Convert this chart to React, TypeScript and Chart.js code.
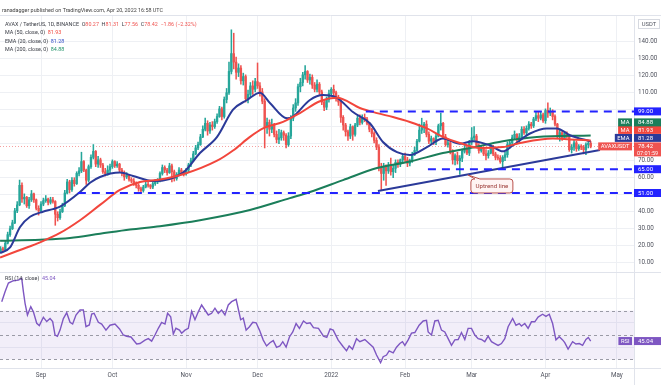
import React, { useEffect, useRef } from 'react';
import { Chart, registerables } from 'chart.js';

Chart.register(...registerables);

// ---------- DATA (daily candles, AVAX/USDT, 15 Aug 2021 – 20 Apr 2022) ----------
// day index 0 = 1 Sep 2021
const firstDay = -17;
const firstOpen = 16.8;

const augClose = [18.2, 17.6, 21.5, 26.5, 30.0, 33.5, 40.5, 44.0, 55.5, 47.5, 48.5, 43.5, 47.0, 50.5, 47.0, 42.0, 40.5];
const augHigh = [19.5, 19.2, 22.5, 28.0, 31.5, 35.0, 42.0, 46.0, 58.6, 57.0, 50.5, 49.0, 48.5, 52.5, 51.0, 47.5, 43.5];
const augLow = [16.5, 16.8, 17.3, 21.0, 25.5, 29.5, 33.0, 39.5, 43.5, 45.5, 44.5, 42.5, 42.0, 46.0, 45.5, 41.0, 38.0];

const sepClose = [44.5, 46.5, 47.5, 45.5, 47.0, 46.0, 38.5, 36.5, 40.0, 43.5, 51.0, 57.5, 53.0, 58.5, 56.5, 62.5, 64.0, 69.5, 64.5, 58.5, 66.5, 72.0, 75.5, 68.0, 70.5, 67.5, 63.5, 62.5, 64.5, 66.5];
const sepHigh = [46.0, 48.0, 49.5, 48.0, 48.5, 48.5, 46.5, 40.0, 41.5, 45.0, 52.5, 59.0, 58.5, 60.0, 60.0, 63.5, 66.0, 75.0, 70.0, 65.0, 67.5, 73.5, 79.5, 76.0, 72.5, 71.5, 68.5, 65.5, 67.0, 68.0];
const sepLow = [39.5, 43.5, 45.5, 44.0, 44.5, 45.0, 32.0, 34.5, 35.5, 39.5, 43.0, 50.5, 51.0, 52.0, 55.0, 56.0, 61.0, 63.0, 63.5, 56.0, 57.5, 65.5, 71.0, 66.5, 66.0, 66.0, 62.5, 61.0, 61.5, 63.0];

const octClose = [69.5, 67.0, 68.0, 64.5, 63.0, 60.5, 61.5, 59.0, 58.0, 56.5, 55.5, 53.5, 52.5, 54.5, 56.0, 55.5, 54.5, 56.5, 57.5, 58.5, 62.5, 66.0, 64.5, 63.0, 67.0, 63.5, 59.5, 62.0, 64.5, 63.0, 62.5];
const octHigh = [70.5, 70.0, 69.5, 68.5, 65.5, 64.0, 63.0, 62.0, 60.0, 59.5, 57.5, 56.5, 54.5, 55.5, 58.0, 57.5, 56.0, 57.5, 59.0, 59.5, 63.5, 67.5, 67.0, 65.5, 68.5, 68.0, 64.5, 63.0, 66.0, 65.5, 64.0];
const octLow = [65.5, 66.0, 66.0, 63.0, 61.0, 58.5, 59.5, 58.0, 57.0, 55.5, 54.0, 52.0, 51.0, 51.5, 54.0, 54.5, 53.5, 53.5, 55.5, 56.5, 57.5, 61.5, 63.0, 61.5, 62.5, 57.5, 58.0, 58.5, 61.0, 62.0, 61.0];

const novClose = [64.5, 67.5, 70.0, 74.0, 77.5, 79.5, 84.0, 88.5, 92.0, 87.5, 91.0, 90.0, 93.0, 96.0, 100.5, 96.0, 106.0, 110.0, 122.5, 133.0, 128.0, 122.0, 124.5, 117.0, 119.5, 106.5, 109.0, 114.0, 112.0, 116.5];
const novHigh = [65.5, 68.5, 71.5, 75.5, 79.0, 81.0, 85.5, 90.5, 95.0, 93.5, 92.5, 93.0, 94.5, 97.5, 102.0, 101.5, 107.5, 112.5, 128.0, 147.0, 145.0, 131.0, 127.0, 126.0, 121.5, 120.5, 111.5, 116.0, 117.0, 118.5];
const novLow = [61.5, 63.5, 66.5, 69.5, 73.5, 76.5, 79.0, 83.5, 87.5, 85.0, 86.0, 88.0, 89.0, 92.0, 95.5, 94.0, 95.0, 104.0, 109.0, 121.0, 124.0, 118.0, 119.5, 115.0, 114.5, 104.5, 104.0, 107.5, 109.0, 110.5];

const decClose = [114.0, 110.5, 105.0, 90.0, 92.5, 88.5, 91.0, 85.5, 82.5, 83.5, 86.5, 85.0, 79.5, 84.5, 95.0, 101.0, 104.0, 113.5, 116.0, 120.5, 122.5, 117.5, 119.0, 114.5, 112.0, 115.0, 110.5, 104.5, 101.5, 106.0, 109.5];
const decHigh = [127.5, 116.0, 112.5, 106.5, 95.0, 94.0, 94.5, 92.0, 87.5, 88.5, 88.0, 87.5, 86.0, 86.5, 96.5, 103.0, 106.5, 115.0, 118.5, 122.0, 126.0, 123.0, 121.0, 120.5, 116.0, 117.5, 116.0, 111.5, 105.5, 107.5, 111.5];
const decLow = [112.5, 108.0, 103.5, 77.5, 86.0, 84.5, 86.5, 84.0, 80.5, 80.0, 82.0, 82.0, 77.5, 78.5, 83.0, 93.5, 99.0, 102.5, 110.5, 114.0, 118.0, 116.0, 115.0, 112.5, 110.5, 110.5, 109.0, 103.0, 99.5, 100.0, 104.5];

const janClose = [112.0, 110.0, 106.5, 104.5, 95.5, 91.0, 87.0, 84.5, 90.0, 85.5, 91.0, 95.0, 92.5, 95.5, 94.5, 92.0, 88.5, 86.0, 82.0, 78.0, 66.0, 62.5, 66.5, 64.0, 67.5, 63.5, 65.5, 69.0, 68.0, 70.5, 72.5];
const janHigh = [113.0, 114.5, 111.0, 108.5, 106.5, 96.5, 92.0, 88.0, 91.5, 90.5, 92.0, 96.5, 97.0, 97.0, 97.5, 95.5, 92.5, 89.0, 87.0, 83.5, 79.5, 68.5, 68.5, 67.5, 69.0, 71.5, 67.5, 70.5, 70.5, 71.0, 73.5];
const janLow = [108.0, 108.0, 105.0, 102.5, 92.5, 88.0, 84.5, 82.0, 83.0, 82.0, 84.5, 90.0, 91.0, 91.5, 93.0, 91.0, 87.0, 84.0, 80.5, 76.5, 64.0, 53.0, 58.5, 55.5, 62.5, 61.5, 60.0, 63.0, 66.0, 66.5, 69.0];

const febClose = [70.5, 68.5, 70.0, 73.5, 76.0, 81.5, 88.0, 89.5, 91.5, 85.5, 81.5, 83.0, 81.0, 84.5, 90.5, 92.0, 84.0, 79.5, 80.5, 75.0, 70.5, 73.0, 70.0, 71.5, 75.5, 77.0, 74.5, 81.0];
const febHigh = [74.5, 72.0, 71.0, 75.0, 78.0, 82.5, 91.5, 95.0, 92.5, 93.5, 87.0, 84.5, 83.5, 86.0, 91.5, 98.0, 92.5, 85.5, 82.0, 81.5, 76.5, 74.0, 75.0, 73.0, 77.0, 79.0, 78.5, 82.0];
const febLow = [69.0, 66.5, 67.0, 69.0, 73.0, 75.5, 81.0, 86.0, 86.5, 84.0, 80.0, 80.0, 79.5, 79.5, 84.0, 88.0, 83.0, 78.5, 78.0, 74.0, 68.0, 67.5, 68.0, 62.0, 69.5, 74.5, 73.5, 73.0];

const marClose = [83.5, 84.5, 79.0, 76.0, 77.5, 74.0, 73.0, 74.5, 78.5, 74.0, 72.0, 71.5, 69.5, 72.0, 73.5, 79.5, 80.5, 83.5, 85.5, 82.5, 84.0, 88.5, 86.5, 89.0, 91.5, 90.5, 94.5, 96.5, 95.0, 97.0, 93.5];
const marHigh = [89.5, 90.0, 85.5, 80.0, 79.0, 78.0, 76.5, 76.0, 80.0, 79.0, 75.0, 73.5, 73.0, 73.0, 75.0, 81.0, 82.0, 85.0, 87.5, 86.0, 86.0, 90.0, 90.0, 90.5, 93.0, 92.5, 95.5, 99.0, 98.5, 99.0, 98.0];
const marLow = [79.5, 82.0, 78.0, 74.5, 75.0, 73.0, 70.5, 71.5, 74.0, 73.0, 70.5, 70.5, 68.5, 66.0, 70.0, 72.0, 77.5, 79.0, 82.5, 81.0, 81.0, 83.0, 85.5, 85.0, 88.0, 89.0, 89.5, 93.5, 93.0, 94.0, 92.5];

const aprClose = [99.5, 98.0, 99.0, 96.0, 91.5, 84.0, 86.5, 83.5, 86.0, 84.5, 76.5, 78.0, 80.5, 77.0, 78.5, 78.0, 76.5, 79.5, 80.27, 78.42];
const aprHigh = [100.5, 104.0, 101.0, 100.0, 97.0, 92.0, 88.5, 87.5, 87.0, 87.0, 84.5, 79.5, 82.0, 81.5, 79.5, 79.5, 79.0, 80.5, 82.0, 81.31];
const aprLow = [92.0, 95.5, 96.5, 94.0, 90.5, 83.0, 81.5, 82.0, 82.5, 83.5, 75.5, 74.5, 76.0, 75.5, 76.0, 76.5, 74.0, 73.5, 77.5, 77.56];

// Moving averages (day index, value)
const ema20Days = [-17.2, -13, -8.8, -4.6, 0.8, 5, 8, 16.4, 20.6, 24.8, 33.2, 38.7, 47.1, 59.7, 66.8, 74, 80.7, 86.6, 92, 96.2, 103.4, 105.9, 113, 118.5, 124.4, 131.1, 138.2, 143.7, 149.6, 155, 162.2, 168.9, 176, 181.5, 188.7, 194.1, 198.3, 205.5, 212.6, 216.8, 222.3, 231];
const ema20Vals = [15.7, 19, 31, 37, 40, 41.5, 43, 51.6, 57, 60.4, 63, 61, 58, 63, 74.5, 84, 100, 105.7, 110, 104, 95, 96, 105.7, 108.6, 107, 98.6, 92, 81, 75, 73.4, 78, 83, 80, 81.5, 79, 75.5, 79, 86, 89, 89, 85, 81.28];

const ma50Days = [-17.2, -8.8, -0.4, 8, 16.4, 24.8, 33.2, 41.6, 48.7, 59.7, 74, 80.7, 87.8, 93.3, 101.7, 108.8, 117.2, 124.4, 134, 141.2, 147.9, 155, 162.2, 168.9, 176, 184.5, 194.1, 201.3, 215.1, 222.3, 231];
const ma50Vals = [13, 17.5, 22, 27.5, 35, 44, 52.8, 57.5, 58.6, 62, 70, 76, 84, 89, 92.8, 98, 105, 107, 101, 98, 95.7, 92.8, 89, 84, 80.4, 77.5, 78, 80.4, 83, 82.5, 81.93];

const ma200Days = [-17.2, -0.4, 12.2, 24.8, 37.4, 50, 66.8, 87.8, 104.6, 113, 126.9, 141.2, 155, 168.9, 180.3, 194.1, 208.4, 231];
const ma200Vals = [22.9, 23.5, 24.5, 27, 29.5, 31.5, 35, 41, 48, 51.6, 58.6, 65.7, 69.5, 74.5, 77.5, 81.5, 84, 84.88];

// Horizontal levels and uptrend line
const levelPrices = [99, 65, 51];
const levelStartDays = [136.5, 162.6, 15.5];
const trendDays = [141.6, 234.9];
const trendPrices = [52.2, 76.3];

// RSI(14)
const rsiDays = [-16.5, -15.1, -13.7, -11.6, -9.5, -8.1, -7.4, -6.7, -5.7, -4.3, -3.2, -1.8, -0.7, 1.0, 2.4, 3.8, 4.9, 5.9, 6.9, 8.0, 9.4, 10.8, 12.2, 13.3, 14.7, 16.4, 17.8, 18.9, 20.3, 21.3, 22.3, 24.1, 25.5, 27.3, 29.0, 31.1, 33.0, 34.6, 36.0, 37.8, 40.2, 41.6, 43.7, 45.1, 46.5, 47.9, 49.3, 50.7, 52.1, 53.2, 54.5, 55.6, 56.7, 58.2, 59.1, 60.5, 61.9, 63.3, 64.7, 66.1, 67.5, 68.9, 70.3, 71.7, 73.1, 74.5, 75.9, 77.3, 78.7, 80.1, 82.0, 83.0, 83.9, 85.0, 86.2, 87.6, 89.0, 90.4, 91.8, 93.4, 94.8, 96.2, 97.6, 99.0, 100.4, 101.6, 103.0, 104.4, 105.8, 107.2, 108.6, 110.3, 111.7, 113.1, 114.5, 116.6, 118.7, 120.1, 121.5, 122.8, 124.9, 127.0, 128.4, 129.5, 130.9, 132.6, 134.0, 136.1, 137.9, 139.6, 141.0, 142.7, 143.8, 145.2, 146.3, 148.0, 149.4, 150.8, 151.9, 152.9, 154.3, 155.7, 157.1, 158.9, 160.6, 162.0, 162.7, 164.1, 165.5, 166.9, 168.3, 169.7, 171.1, 172.5, 173.9, 175.3, 176.7, 178.1, 179.5, 180.9, 182.3, 183.7, 185.1, 186.5, 187.9, 189.3, 190.7, 192.1, 193.5, 194.9, 196.3, 198.2, 199.6, 201.0, 201.9, 203.3, 204.7, 206.1, 207.5, 208.9, 210.8, 212.2, 213.6, 215.0, 216.4, 217.8, 219.2, 220.1, 221.5, 223.4, 224.8, 226.2, 227.6, 229.0, 230.0, 231];
const rsiVals = [77.3, 85.5, 92.6, 94.5, 95, 96.4, 85.5, 76, 66.4, 73.2, 69, 59.6, 57.7, 64.5, 61, 63.5, 61, 50, 49, 54, 63.5, 68.3, 60.4, 59, 66.4, 70.5, 70.5, 56.8, 58.2, 67.2, 67.8, 60.4, 59, 54, 58, 59, 55, 50, 49, 48.4, 42.6, 43, 45.8, 47, 45, 50, 55.5, 60.4, 59, 67.8, 65, 50.8, 55.5, 54, 51.5, 54, 55.5, 69.5, 62.5, 69, 74.6, 70.5, 66.4, 67.8, 72, 67.8, 70.5, 66.4, 74.6, 77.3, 79.2, 70.5, 62.5, 63.8, 54, 56.8, 60.4, 60, 54, 45.8, 41, 43.7, 45.4, 39.9, 41, 44.5, 40, 48.4, 52.5, 59.4, 55.4, 61.5, 59.4, 60, 56, 55.4, 49, 48, 55, 54, 45.8, 40.4, 37, 41, 38.4, 47, 44.5, 46.3, 43, 40, 33.6, 27.3, 32.2, 33.6, 37, 35.4, 40, 43, 44.5, 41.5, 46, 51.5, 52, 58, 61.5, 62, 52.5, 50, 61.5, 62, 54, 52.5, 47, 41.5, 46, 46.3, 52, 46.3, 55.4, 55.4, 50, 47, 46.3, 44.5, 49, 44.5, 43, 41.5, 43, 47, 56.8, 63.6, 58, 59.4, 57.4, 59.4, 55.4, 60.8, 60.8, 64.7, 67, 65.3, 67, 59.4, 46, 48.6, 46, 43.7, 38.4, 44.5, 42.6, 43, 41.5, 46.3, 48, 45.04];
const rsiBand = [70, 50, 30];

// Axis ticks
const monthDays = [0, 30, 61, 91, 122, 153, 181, 212, 242];
const monthLabels = ['Sep', 'Oct', 'Nov', 'Dec', '2022', 'Feb', 'Mar', 'Apr', 'May'];
const priceTicks = [10, 20, 30, 40, 50, 60, 70, 80, 90, 100, 110, 120, 130, 140];
const hiddenPriceTicks = [50, 80, 90, 100];
const rsiTicks = [40, 60, 80, 100];

// Legend values
const lastOHLC = { o: '80.27', h: '81.31', l: '77.56', c: '78.42' };
const lastChange = '\u22121.86 (\u22122.32%)';
const ma50Last = 81.93;
const ema20Last = 81.28;
const ma200Last = 84.88;
const rsiLast = 45.04;
const countdown = '07:01:59';
const calloutDay = 179.4;
const calloutPrice = 61.6;

// ---------- LAYOUT ----------
const W = 661;
const H = 385;
const PANE_TOP = 16;
const PANE_SPLIT = 272;
const PANE_BOTTOM = 368;
const AXIS_W = 27;
const PRICE_MAX = 155.12;
const PRICE_AT_SPLIT = 4.53;
const Y_MIN = PRICE_AT_SPLIT - ((PRICE_MAX - PRICE_AT_SPLIT) * (PANE_BOTTOM - PANE_SPLIT)) / (PANE_SPLIT - PANE_TOP);
const RSI_AT_SPLIT = 101.64;
const RSI_MIN = 22.95;
const RSI_MAX = RSI_AT_SPLIT + ((RSI_AT_SPLIT - RSI_MIN) * (PANE_SPLIT - PANE_TOP)) / (PANE_BOTTOM - PANE_SPLIT);
const X_MIN = -17.23;
const X_MAX = 249.2;

const FONT = 'Roboto, "Liberation Sans", Arial, sans-serif';
const GRID = '#eef0f4';
const UP = '#26a69a';
const DOWN = '#ef5350';
const EMA_C = '#2b3a99';
const MA50_C = '#f2463c';
const MA200_C = '#1b7e5a';
const LEVEL_C = '#2323ff';
const RSI_C = '#7e57c2';
const TEXT = '#3a3d45';
const AXIS_TEXT = '#50535e';
const LEGEND_SIZE = 5.4;

const closes = [...augClose, ...sepClose, ...octClose, ...novClose, ...decClose, ...janClose, ...febClose, ...marClose, ...aprClose];
const highs = [...augHigh, ...sepHigh, ...octHigh, ...novHigh, ...decHigh, ...janHigh, ...febHigh, ...marHigh, ...aprHigh];
const lows = [...augLow, ...sepLow, ...octLow, ...novLow, ...decLow, ...janLow, ...febLow, ...marLow, ...aprLow];

function buildCandles() {
  const bodies: any[] = [];
  const wicks: any[] = [];
  const colors: string[] = [];
  for (let i = 0; i < closes.length; i++) {
    const o = i === 0 ? firstOpen : closes[i - 1];
    const c = closes[i];
    const hi = Math.max(highs[i], o, c);
    const lo = Math.min(lows[i], o, c);
    const day = firstDay + i;
    bodies.push({ x: day, y: [o, c] });
    wicks.push({ x: day, y: [lo, hi] });
    colors.push(c >= o ? UP : DOWN);
  }
  return { bodies, wicks, colors };
}

function pts(days: number[], vals: number[]) {
  const n = Math.min(days.length, vals.length);
  const out: any[] = [];
  for (let i = 0; i < n; i++) out.push({ x: days[i], y: vals[i] });
  return out;
}

function f(sz: number, w = 'normal') {
  return `${w} ${sz}px ${FONT}`;
}

function runs(ctx: CanvasRenderingContext2D, x: number, y: number, parts: [string, string][]) {
  let cx = x;
  for (const [t, c] of parts) {
    ctx.fillStyle = c;
    ctx.fillText(t, cx, y);
    cx += ctx.measureText(t).width;
  }
}

function valueBadge(ctx: CanvasRenderingContext2D, left: number, yc: number, bg: string, text: string, h = 8) {
  ctx.fillStyle = bg;
  ctx.fillRect(left, yc - h / 2, W - left, h);
  ctx.fillStyle = '#ffffff';
  ctx.font = f(6);
  ctx.textAlign = 'left';
  ctx.textBaseline = 'middle';
  ctx.fillText(text, left + 4, yc + 0.3);
}

function labelBadge(ctx: CanvasRenderingContext2D, right: number, yc: number, bg: string, text: string, h = 8) {
  ctx.font = f(5.8);
  const w = ctx.measureText(text).width + 5;
  ctx.fillStyle = bg;
  ctx.fillRect(right - w, yc - h / 2, w, h);
  ctx.fillStyle = '#ffffff';
  ctx.textAlign = 'center';
  ctx.textBaseline = 'middle';
  ctx.fillText(text, right - w / 2, yc + 0.3);
}

const overlay = {
  id: 'overlay',
  beforeDatasetsDraw(chart: any) {
    const { ctx, chartArea: ca, scales } = chart;
    const yr = scales.yRsi;
    const yp = scales.y;
    ctx.save();
    const y70 = yr.getPixelForValue(rsiBand[0]);
    const y30 = yr.getPixelForValue(rsiBand[2]);
    ctx.fillStyle = 'rgba(126,87,194,0.10)';
    ctx.fillRect(ca.left, y70, ca.right - ca.left, y30 - y70);
    ctx.setLineDash([3, 3]);
    ctx.strokeStyle = '#9a9aa6';
    ctx.lineWidth = 1;
    for (const v of rsiBand) {
      const y = Math.round(yr.getPixelForValue(v)) + 0.5;
      ctx.beginPath();
      ctx.moveTo(ca.left, y);
      ctx.lineTo(ca.right, y);
      ctx.stroke();
    }
    const lp = Math.round(yp.getPixelForValue(closes[closes.length - 1])) + 0.5;
    ctx.setLineDash([1, 2]);
    ctx.strokeStyle = '#f5a0a0';
    ctx.beginPath();
    ctx.moveTo(ca.left, lp);
    ctx.lineTo(ca.right, lp);
    ctx.stroke();
    ctx.restore();
  },
  afterDraw(chart: any) {
    const { ctx, chartArea: ca, scales } = chart;
    const yp = scales.y;
    const yr = scales.yRsi;
    const xs = scales.x;
    ctx.save();
    ctx.setLineDash([]);
    ctx.strokeStyle = '#e0e3eb';
    ctx.lineWidth = 1;
    ctx.beginPath();
    ctx.moveTo(0, PANE_TOP - 0.5);
    ctx.lineTo(W, PANE_TOP - 0.5);
    ctx.moveTo(0, PANE_SPLIT + 0.5);
    ctx.lineTo(W, PANE_SPLIT + 0.5);
    ctx.moveTo(0, PANE_BOTTOM + 0.5);
    ctx.lineTo(W, PANE_BOTTOM + 0.5);
    ctx.moveTo(ca.right + 0.5, PANE_TOP);
    ctx.lineTo(ca.right + 0.5, H);
    ctx.stroke();

    ctx.textAlign = 'left';
    ctx.textBaseline = 'middle';
    ctx.font = f(LEGEND_SIZE);
    ctx.fillStyle = '#444';
    ctx.fillText('ranadagger published on TradingView.com, Apr 20, 2022 16:58 UTC', 2, 10.5);

    ctx.font = f(LEGEND_SIZE);
    runs(ctx, 5, 24.3, [
      ['AVAX / TetherUS, 1D, BINANCE  O', TEXT], [lastOHLC.o, DOWN],
      ['  H', TEXT], [lastOHLC.h, DOWN],
      ['  L', TEXT], [lastOHLC.l, DOWN],
      ['  C', TEXT], [lastOHLC.c, DOWN],
      ['  ' + lastChange, DOWN],
    ]);
    runs(ctx, 5, 32.8, [['MA (50, close, 0)  ', TEXT], [ma50Last.toFixed(2), MA50_C]]);
    runs(ctx, 5, 41.2, [['EMA (20, close, 0)  ', TEXT], [ema20Last.toFixed(2), '#3550c8']]);
    runs(ctx, 5, 49.4, [['MA (200, close, 0)  ', TEXT], [ma200Last.toFixed(2), '#23936b']]);
    runs(ctx, 5, 279, [['RSI (14, close)  ', TEXT], [rsiLast.toFixed(2), RSI_C]]);

    ctx.strokeStyle = '#d6d9e0';
    ctx.strokeRect(638.5, 19.5, 21, 9);
    ctx.fillStyle = AXIS_TEXT;
    ctx.font = f(5.8);
    ctx.textAlign = 'center';
    ctx.fillText('USDT', 649, 24.3);

    const left = ca.right;
    for (const p of levelPrices) {
      valueBadge(ctx, left, yp.getPixelForValue(p), LEVEL_C, p.toFixed(2));
    }

    const lastClose = closes[closes.length - 1];
    const avY = yp.getPixelForValue(lastClose);
    const emaY = Math.min(yp.getPixelForValue(ema20Last), avY - 4 - 4.5);
    const ma50Y = Math.min(yp.getPixelForValue(ma50Last), emaY - 8);
    const ma200Y = Math.min(yp.getPixelForValue(ma200Last), ma50Y - 7.5);

    ctx.fillStyle = DOWN;
    ctx.fillRect(left, avY - 4, W - left, 14);
    ctx.fillStyle = '#fff';
    ctx.font = f(6);
    ctx.textAlign = 'left';
    ctx.textBaseline = 'middle';
    ctx.fillText(lastClose.toFixed(2), left + 4, avY + 0.3);
    ctx.font = f(5.5);
    ctx.fillText(countdown, left + 3, avY + 6.8);
    labelBadge(ctx, left - 2, avY, DOWN, 'AVAXUSDT');

    valueBadge(ctx, left, emaY, EMA_C, ema20Last.toFixed(2));
    labelBadge(ctx, left - 2, emaY, EMA_C, 'EMA');
    valueBadge(ctx, left, ma50Y, MA50_C, ma50Last.toFixed(2));
    labelBadge(ctx, left - 2, ma50Y, MA50_C, 'MA');
    valueBadge(ctx, left, ma200Y, MA200_C, ma200Last.toFixed(2));
    labelBadge(ctx, left - 2, ma200Y, MA200_C, 'MA');

    const rY = yr.getPixelForValue(rsiLast);
    valueBadge(ctx, left, rY, RSI_C, rsiLast.toFixed(2));
    labelBadge(ctx, left - 2, rY, RSI_C, 'RSI');

    const tx = xs.getPixelForValue(calloutDay);
    const ty = yp.getPixelForValue(calloutPrice);
    ctx.font = f(6.2);
    const label = 'Uptrend line';
    const bw = ctx.measureText(label).width + 9;
    const bx = tx + 3;
    const by = ty + 4;
    const bh = 14;
    ctx.beginPath();
    const r = 3;
    ctx.moveTo(bx + r, by);
    ctx.lineTo(bx + 4, by);
    ctx.lineTo(tx, ty);
    ctx.lineTo(bx + 9, by);
    ctx.lineTo(bx + bw - r, by);
    ctx.quadraticCurveTo(bx + bw, by, bx + bw, by + r);
    ctx.lineTo(bx + bw, by + bh - r);
    ctx.quadraticCurveTo(bx + bw, by + bh, bx + bw - r, by + bh);
    ctx.lineTo(bx + r, by + bh);
    ctx.quadraticCurveTo(bx, by + bh, bx, by + bh - r);
    ctx.lineTo(bx, by + r);
    ctx.quadraticCurveTo(bx, by, bx + r, by);
    ctx.closePath();
    ctx.fillStyle = '#fff4f3';
    ctx.fill();
    ctx.strokeStyle = '#b9514c';
    ctx.lineWidth = 1;
    ctx.stroke();
    ctx.fillStyle = '#9c3a36';
    ctx.textAlign = 'left';
    ctx.textBaseline = 'middle';
    ctx.fillText(label, bx + 4.5, by + bh / 2 + 0.3);

    ctx.restore();
  },
};

export default function App() {
  const ref = useRef<HTMLCanvasElement>(null);
  useEffect(() => {
    const canvas = ref.current;
    if (!canvas) return;
    const { bodies, wicks, colors } = buildCandles();
    const lineBase = { type: 'line', pointRadius: 0, borderWidth: 2, fill: false, cubicInterpolationMode: 'monotone', yAxisID: 'y', xAxisID: 'x' };
    const datasets: any[] = [
      {
        type: 'bar', data: wicks, backgroundColor: colors, barThickness: 0.9, grouped: false, borderWidth: 0, yAxisID: 'y', xAxisID: 'x', order: 6,
      },
      {
        type: 'bar', data: bodies, backgroundColor: colors, barThickness: 1.7, grouped: false, borderWidth: 0, minBarLength: 1, yAxisID: 'y', xAxisID: 'x', order: 5,
      },
      { ...lineBase, data: pts(ma200Days, ma200Vals), borderColor: MA200_C, order: 3 },
      { ...lineBase, data: pts(ma50Days, ma50Vals), borderColor: MA50_C, order: 2 },
      { ...lineBase, data: pts(ema20Days, ema20Vals), borderColor: EMA_C, order: 2 },
      ...levelPrices.map((p, i) => ({
        ...lineBase, cubicInterpolationMode: 'default', tension: 0, data: [{ x: levelStartDays[i], y: p }, { x: X_MAX, y: p }], borderColor: LEVEL_C, borderDash: [8, 6], order: 1,
      })),
      { ...lineBase, cubicInterpolationMode: 'default', tension: 0, data: pts(trendDays, trendPrices), borderColor: EMA_C, order: 1 },
      { ...lineBase, cubicInterpolationMode: 'default', tension: 0, borderWidth: 1.4, data: pts(rsiDays, rsiVals), borderColor: RSI_C, yAxisID: 'yRsi', order: 1 },
    ];
    const tickFont = { size: 6.3, family: FONT };
    const chart = new Chart(canvas, {
      type: 'bar',
      data: { datasets },
      options: {
        responsive: false,
        animation: false,
        events: [],
        layout: { padding: { top: PANE_TOP, left: 0, right: 0, bottom: 0 }, autoPadding: false },
        plugins: { legend: { display: false }, tooltip: { enabled: false } },
        scales: {
          x: {
            type: 'linear', min: X_MIN, max: X_MAX, offset: false,
            grid: { color: GRID, drawTicks: false, offset: false },
            border: { display: false },
            afterBuildTicks: (s: any) => { s.ticks = monthDays.map((v) => ({ value: v })); },
            ticks: {
              autoSkip: false, maxRotation: 0, padding: 4, font: tickFont, color: AXIS_TEXT,
              callback: (v: any) => { const i = monthDays.indexOf(Number(v)); return i >= 0 ? monthLabels[i] : ''; },
            },
            afterFit: (s: any) => { s.height = H - PANE_BOTTOM; },
          },
          yRsi: {
            type: 'linear', position: 'right', min: RSI_MIN, max: RSI_MAX, weight: 0,
            grid: { color: (c: any) => (c.tick && c.tick.value === 100 ? 'rgba(0,0,0,0)' : GRID), drawTicks: false },
            border: { display: false },
            afterBuildTicks: (s: any) => { s.ticks = rsiTicks.map((v) => ({ value: v })); },
            ticks: { padding: 4, font: tickFont, color: AXIS_TEXT, callback: (v: any) => Number(v).toFixed(2) },
            afterFit: (s: any) => { s.width = 0; },
          },
          y: {
            type: 'linear', position: 'right', min: Y_MIN, max: PRICE_MAX, weight: 1,
            grid: { color: GRID, drawTicks: false },
            border: { display: false },
            afterBuildTicks: (s: any) => { s.ticks = priceTicks.map((v) => ({ value: v })); },
            ticks: { padding: 4, font: tickFont, color: AXIS_TEXT, callback: (v: any) => (hiddenPriceTicks.includes(Number(v)) ? '' : Number(v).toFixed(2)) },
            afterFit: (s: any) => { s.width = AXIS_W; },
          },
        },
      } as any,
      plugins: [overlay],
    } as any);
    return () => chart.destroy();
  }, []);
  return (
    <div style={{ position: 'fixed', left: 0, top: 0, width: W, height: H, background: '#ffffff' }}>
      <canvas ref={ref} width={W} height={H} style={{ width: W, height: H, display: 'block' }} />
    </div>
  );
}
